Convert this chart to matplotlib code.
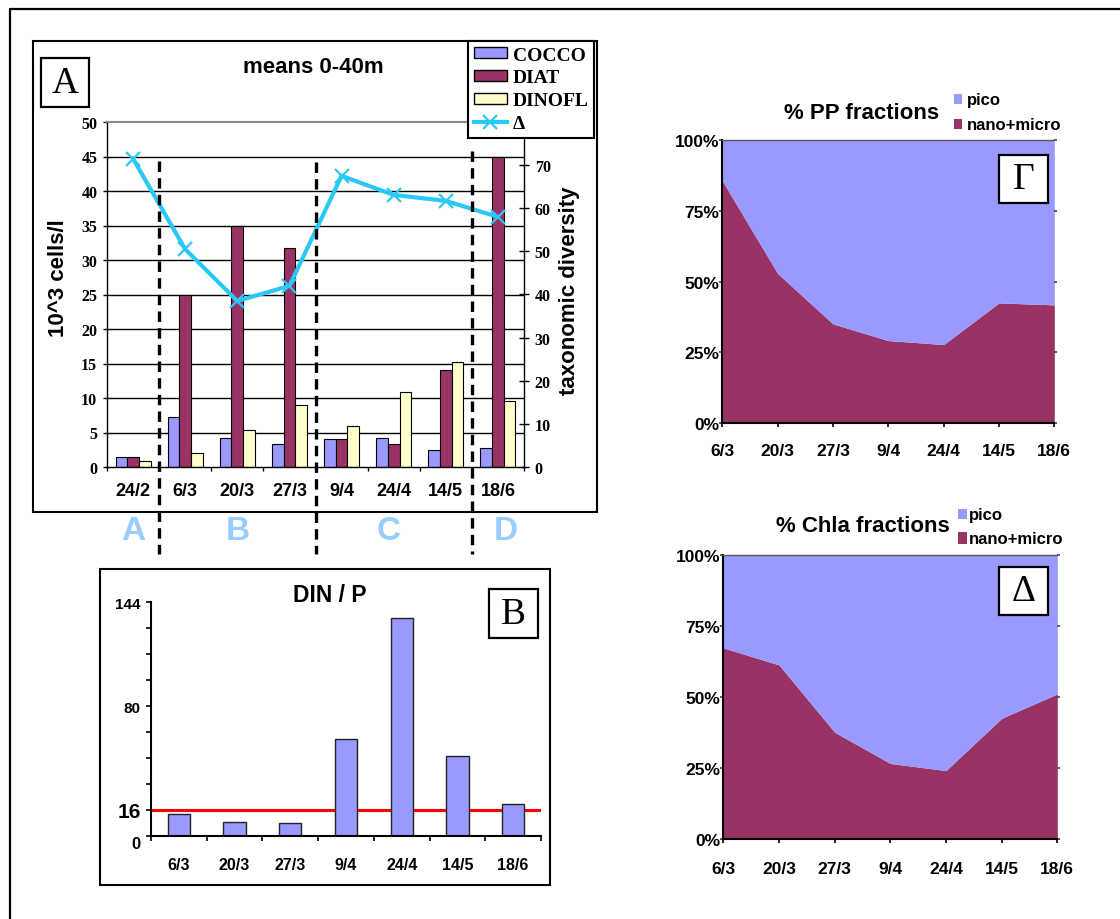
import numpy as np
import matplotlib
matplotlib.use("Agg")
import matplotlib.pyplot as plt
from matplotlib.patches import Rectangle, Patch
from matplotlib.lines import Line2D
from matplotlib.font_manager import FontProperties

# ---------------- data ----------------
dates_a = ['24/2', '6/3', '20/3', '27/3', '9/4', '24/4', '14/5', '18/6']
cocco = [1.5, 7.3, 4.2, 3.4, 4.0, 4.2, 2.5, 2.8]
diat = [1.5, 25.0, 35.0, 31.8, 4.0, 3.4, 14.1, 45.0]
dinofl = [0.8, 2.1, 5.4, 9.0, 6.0, 10.8, 15.2, 9.6]
diversity = [71.5, 50.5, 38.5, 42.0, 67.5, 63.1, 61.7, 58.0]

period_labels = ['A', 'B', 'C', 'D']
period_centers = [0.0, 2.0, 4.9, 7.15]
period_breaks = [0.5, 3.5, 6.5]

dates = ['6/3', '20/3', '27/3', '9/4', '24/4', '14/5', '18/6']
din_p = [13.4, 8.2, 7.6, 59.5, 134.1, 49.4, 19.7]
redfield_ratio = 16

pp_nano_micro = [85.6, 52.9, 35.1, 29.2, 27.8, 42.5, 41.8]
chla_nano_micro = [67.3, 61.3, 37.6, 26.6, 24.1, 42.5, 51.1]

# ---------------- style ----------------
C_COCCO = '#9999FF'
C_DIAT = '#993366'
C_DINO = '#FFFFCC'
C_DELTA = '#29C8F5'
C_PICO = '#9999FF'
C_NANO = '#993366'
SANS = 'Liberation Sans'
SERIF = 'Liberation Serif'
plt.rcParams['lines.scale_dashes'] = False

W, H = 1120, 920
fig = plt.figure(figsize=(W / 100, H / 100), dpi=100)


def add_axes_px(x0, y0, x1, y1):
    return fig.add_axes([x0 / W, 1 - y1 / H, (x1 - x0) / W, (y1 - y0) / H])


def frame_px(x0, y0, x1, y1, lw=1.5, fc='none'):
    fig.add_artist(Rectangle((x0 / W, 1 - y1 / H), (x1 - x0) / W, (y1 - y0) / H,
                             transform=fig.transFigure, fill=(fc != 'none'),
                             fc=fc, ec='black', lw=lw))


def text_px(x, y, s, **kw):
    kw.setdefault('ha', 'center')
    kw.setdefault('va', 'baseline')
    return fig.text(x / W, 1 - y / H, s, **kw)


def letter_box(x0, y0, x1, y1, letter):
    fig.add_artist(Rectangle((x0 / W, 1 - y1 / H), (x1 - x0) / W, (y1 - y0) / H,
                             transform=fig.transFigure, fc='white', ec='black',
                             lw=1.6, zorder=6))
    fig.text((x0 + x1) / 2 / W, 1 - (y0 + y1) / 2 / H, letter, ha='center',
             va='center', family=SERIF, fontsize=27, zorder=7)


# outer frame (left and top edges)
fig.add_artist(Line2D([9.5 / W, 9.5 / W, 1.0], [0.0, 1 - 10 / H, 1 - 10 / H],
                      transform=fig.transFigure, color='black', lw=1.6))

# ---------------- panel A ----------------
frame_px(33.3, 41.7, 596.7, 512.5)
ax = add_axes_px(107, 123, 524, 468)
xa = np.arange(len(dates_a))
bw = 0.224
ax.bar(xa - bw, cocco, bw, color=C_COCCO, edgecolor='black', lw=0.8)
ax.bar(xa, diat, bw, color=C_DIAT, edgecolor='black', lw=0.8)
ax.bar(xa + bw, dinofl, bw, color=C_DINO, edgecolor='black', lw=0.8)
ax.set_xlim(-0.5, len(dates_a) - 0.5)
ax.set_ylim(0, 50)
ax.set_axisbelow(True)
ax.set_yticks(np.arange(0, 51, 5), [str(v) for v in range(0, 51, 5)],
              family=SERIF, fontweight='bold', fontsize=11.5)
ax.tick_params(axis='y', direction='out', length=3, width=1, pad=4)
ax.set_xticks(np.arange(-0.5, len(dates_a), 1), [''] * (len(dates_a) + 1))
ax.set_xticks(xa, dates_a, minor=True, family=SANS, fontweight='bold', fontsize=13)
ax.tick_params(axis='x', which='major', direction='out', length=3, width=1)
ax.tick_params(axis='x', which='minor', length=0, pad=10.5)
ax.yaxis.grid(True, color='black', lw=1)
gl = ax.get_ygridlines()
gl[0].set_visible(False)
gl[-1].set_visible(False)
ax.spines['top'].set_color('#8a8a8a')
ax.spines['top'].set_linewidth(1.5)
ax.spines['right'].set_visible(False)
for s in ('left', 'bottom'):
    ax.spines[s].set_linewidth(1)

ax2 = ax.twinx()
ax2.plot(xa, diversity, color=C_DELTA, lw=3, marker='x', ms=10, mew=1.6, zorder=3)
ax2.set_ylim(0, 80)
ax2.set_yticks(np.arange(0, 81, 10), [str(v) for v in range(0, 81, 10)],
               family=SERIF, fontweight='bold', fontsize=11.5)
ax2.tick_params(axis='y', direction='inout', length=6.5, width=1, pad=4.5)
for s in ('left', 'top', 'bottom'):
    ax2.spines[s].set_visible(False)
ax2.spines['right'].set_linewidth(1)

# season separators
xtr = ax2.get_xaxis_transform()
for xb, top in zip(period_breaks, [0.887, 0.885, 0.916]):
    ax2.plot([xb, xb], [top, -0.252], transform=xtr, color='black', lw=2.4,
             linestyle=(0, (7.5, 4.5)), clip_on=False, zorder=5)
for xc, lab in zip(period_centers, period_labels):
    ax2.text(xc, -0.208, lab, transform=xtr, ha='center', va='baseline',
             family=SANS, fontweight='bold', fontsize=24, color='#99CCFF')

text_px(313, 73, 'means 0-40m', family=SANS, fontweight='bold', fontsize=16)
text_px(58, 278.5, '10^3 cells/l', family=SANS, fontweight='bold', fontsize=16,
        rotation=90, va='center')
text_px(570, 290.5, 'taxonomic diversity', family=SANS, fontweight='bold',
        fontsize=16, rotation=90, va='center')
letter_box(40.7, 59.3, 89.3, 108.3, 'A')

handles = [Patch(fc=C_COCCO, ec='black', lw=1), Patch(fc=C_DIAT, ec='black', lw=1),
           Patch(fc=C_DINO, ec='black', lw=1),
           Line2D([], [], color=C_DELTA, lw=3, marker='x', ms=10, mew=1.6)]
leg = fig.legend(handles, ['COCCO', 'DIAT', 'DINOFL', 'Δ'], loc='upper left',
                 bbox_to_anchor=(468 / W, 1 - 41.7 / H), borderaxespad=0,
                 frameon=True, fancybox=False, edgecolor='black', framealpha=1,
                 prop=FontProperties(family=SERIF, weight='bold', size=14),
                 handlelength=1.7, handleheight=0.5, handletextpad=0.3,
                 labelspacing=0.3, borderpad=0.3)
leg.get_frame().set_linewidth(1.5)
leg.set_zorder(8)

# ---------------- panel B ----------------
frame_px(100, 569.5, 550, 885.7)
axb = add_axes_px(151, 603.3, 541, 836.7)
xb_ = np.arange(len(dates))
axb.axhline(redfield_ratio, color='red', lw=2.2, zorder=1.5)
axb.bar(xb_, din_p, 0.4, color=C_PICO, edgecolor='#222222', lw=1, zorder=2)
axb.set_xlim(-0.5, len(dates) - 0.5)
axb.set_ylim(0, 144)
yt = np.arange(0, 145, 16)
ylabels = [str(v) if v in (0, redfield_ratio, 80, 144) else '' for v in yt]
axb.set_yticks(yt, ylabels, family=SANS, fontweight='bold', fontsize=11)
for t, v in zip(axb.get_yticklabels(), yt):
    if v == redfield_ratio:
        t.set_fontsize(15)
    if v == 0:
        t.set_fontsize(12)
        t.set_verticalalignment('top')
axb.tick_params(axis='y', direction='out', length=3.5, width=1.2, pad=4)
axb.set_xticks(np.arange(-0.5, len(dates), 1), [''] * (len(dates) + 1))
axb.set_xticks(xb_, dates, minor=True, family=SANS, fontweight='bold', fontsize=11.5)
axb.tick_params(axis='x', which='major', direction='out', length=3.5, width=1.2)
axb.tick_params(axis='x', which='minor', length=0, pad=15)
for s in ('top', 'right'):
    axb.spines[s].set_visible(False)
for s in ('left', 'bottom'):
    axb.spines[s].set_linewidth(1.5)
text_px(330, 601.7, 'DIN / P', family=SANS, fontweight='bold', fontsize=16.5)
letter_box(489, 590, 538, 639, 'B')


# ---------------- panels Γ and Δ ----------------
def fraction_panel(rect, nano, title, title_xy, leg_sq, leg_txt, box, letter, xpad):
    a = add_axes_px(*rect)
    xs = np.arange(len(dates))
    a.fill_between(xs, 0, nano, color=C_NANO, lw=0)
    a.fill_between(xs, nano, 100, color=C_PICO, lw=0)
    a.set_xlim(0, len(dates) - 1)
    a.set_ylim(0, 100)
    a.set_xticks(xs, dates, family=SANS, fontweight='bold', fontsize=12.5)
    a.set_yticks([0, 25, 50, 75, 100], ['0%', '25%', '50%', '75%', '100%'],
                 family=SANS, fontweight='bold', fontsize=12.5)
    a.tick_params(axis='x', direction='out', length=3, width=1.2, pad=xpad)
    a.tick_params(axis='y', direction='out', length=3, width=1.2, pad=0)
    a.tick_params(axis='y', which='major', right=True, color='#444444', length=2)
    a.spines['right'].set_visible(False)
    a.spines['top'].set_color('#555555')
    a.spines['top'].set_linewidth(1)
    for s in ('left', 'bottom'):
        a.spines[s].set_linewidth(1.5)
    text_px(title_xy[0], title_xy[1], title, family=SANS, fontweight='bold', fontsize=16)
    for (sx0, sy0, sx1, sy1), col in zip(leg_sq, [C_PICO, C_NANO]):
        fig.add_artist(Rectangle((sx0 / W, 1 - sy1 / H), (sx1 - sx0) / W, (sy1 - sy0) / H,
                                 transform=fig.transFigure, fc=col, ec='none'))
    for (tx, ty), lab in zip(leg_txt, ['pico', 'nano+micro']):
        text_px(tx, ty, lab, ha='left', family=SANS, fontweight='bold', fontsize=12)
    letter_box(*box, letter)
    return a


fraction_panel((722.3, 141, 1054.3, 424.3), pp_nano_micro, '% PP fractions',
               (861.7, 119.3),
               [(954.3, 95, 962.3, 105), (954.3, 120, 962.3, 130)],
               [(966.7, 105), (966.7, 130)],
               (999, 155.7, 1048, 204.3), 'Γ', 11.5)
fraction_panel((723.3, 556, 1057.3, 840), chla_nano_micro, '% Chla fractions',
               (863, 531.7),
               [(958.3, 510, 966.7, 520), (958.3, 533, 966.7, 545)],
               [(969.3, 520), (969.3, 544.3)],
               (999, 567.7, 1048, 616), 'Δ', 12.5)

fig.savefig('out.png', dpi=100)
